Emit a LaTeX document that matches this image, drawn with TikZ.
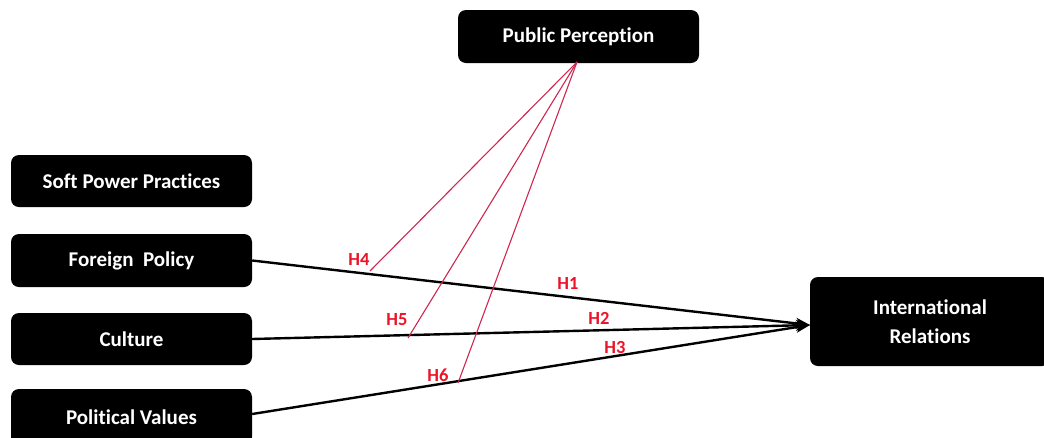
\documentclass[tikz,border=0pt]{standalone}
\usepackage{fontspec}
\setmainfont{Carlito}[Ligatures={NoCommon}]
\usetikzlibrary{arrows.meta}
\definecolor{hred}{RGB}{235,20,40}
\definecolor{hline}{RGB}{205,40,80}
\tikzset{
  box/.style={fill=black, text=white, rounded corners=8pt, minimum width=241pt, inner sep=0pt,
    font=\fontsize{21}{29}\selectfont\bfseries, align=center},
  path/.style={draw=black, line width=2.4pt, -{Stealth[length=14pt,width=11pt,inset=4pt]}},
  hyp/.style={draw=hline, line width=1.1pt},
  hlab/.style={text=hred, font=\fontsize{18.5}{20}\selectfont\bfseries, inner sep=0pt}
}
\begin{document}
\begin{tikzpicture}[x=1pt,y=-1pt]
\useasboundingbox (0,0) rectangle (1044,437);
\node[box, minimum height=53pt] (pp) at (578.5,36.5) {Public Perception};
\node[box, minimum height=52pt] (spp) at (131.5,181) {Soft Power Practices};
\node[box, minimum height=53pt] (fp) at (131.5,260.5) {Foreign\ \ Policy};
\node[box, minimum height=52pt] (cu) at (131.5,339) {Culture};
\node[box, minimum height=56pt] (pv) at (131.5,417) {Political Values};
\node[box, minimum width=240pt, minimum height=89pt] (ir) at (930,321.5) {International\\Relations};

\coordinate (tip) at (810,325);
\coordinate (src) at (577,62);
\coordinate (e4) at (370,271);
\coordinate (e5) at (408,338);
\coordinate (e6) at (458,383);

\draw[path] (fp.east) -- (tip);
\draw[path] (cu.east) -- (tip);
\draw[path] (pv.east |- 0,414) -- (tip);

\draw[hyp] (src) -- (e4);
\draw[hyp] (src) -- (e5);
\draw[hyp] (src) -- (e6);

\node[hlab] (h1) at (568,283) {H1};
\node[hlab] (h2) at (599,318) {H2};
\node[hlab] (h3) at (615,347) {H3};
\node[hlab] (h4) at (359,259) {H4};
\node[hlab] (h5) at (397,320) {H5};
\node[hlab] (h6) at (438,375) {H6};
\end{tikzpicture}
\end{document}
